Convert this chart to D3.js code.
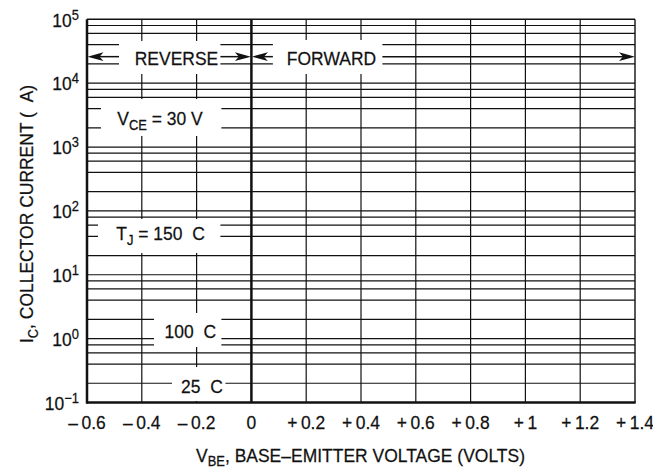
<!DOCTYPE html>
<html>
<head>
<meta charset="utf-8">
<script src="https://cdn.jsdelivr.net/npm/d3@7"></script>
<style>
  html, body { margin: 0; padding: 0; background: #fff; }
  svg { display: block; }
  text { font-family: "Liberation Sans", Arial, Helvetica, sans-serif; fill: #111; stroke: #111; stroke-width: 0.25; white-space: pre; }
</style>
</head>
<body>
<svg id="chart" width="653" height="470"></svg>
<script>
// ---- data ----
const xTicks = [-0.6, -0.4, -0.2, 0, 0.2, 0.4, 0.6, 0.8, 1, 1.2, 1.4];
const xTickLabels = ["\u2013\u20090.6", "\u2013\u20090.4", "\u2013\u20090.2", "0", "+\u20090.2", "+\u20090.4", "+\u20090.6", "+\u20090.8", "+\u20091", "+\u20091.2", "+\u20091.4"];
const yDecades = [-1, 0, 1, 2, 3, 4, 5];
const yDecadeLabels = ["\u22121", "0", "1", "2", "3", "4", "5"];
const yMinorMultipliers = [2, 4, 6, 8];
const xDomain = [-0.6, 1.4];
const yDomain = [0.1, 1e5];
const regionLabels = ["REVERSE", "FORWARD"];
const conditionLabels = ["30 V", "150\u00a0\u00a0C", "100\u00a0\u00a0C", "25\u00a0\u00a0C"];
const xTitle = ["V", "BE", ", BASE\u2013EMITTER VOLTAGE (VOLTS)"];
const yTitle = ["I", "C", ", COLLECTOR CURRENT (\u00a0\u00a0A)"];

// ---- setup ----
const svg = d3.select("#chart");
const x = d3.scaleLinear().domain(xDomain).range([87, 635]);
const y = d3.scaleLog().domain(yDomain).range([402.5, 19.3]);
const ink = "#111";
const FS = 19;
const SX = 0.92;

// grid values
const minorVals = [];
yDecades.slice(0, -1).forEach(d => yMinorMultipliers.forEach(m => minorVals.push(m * Math.pow(10, d))));
const majorVals = yDecades.map(d => Math.pow(10, d));

const grid = svg.append("g");
grid.selectAll("line.h").data(minorVals.concat(majorVals.slice(1, -1)))
  .join("line").attr("class", "h")
  .attr("x1", x(xDomain[0])).attr("x2", x(xDomain[1]))
  .attr("y1", d => y(d)).attr("y2", d => y(d))
  .attr("stroke", ink).attr("stroke-width", 1.2);
grid.append("line").attr("x1", x(xDomain[0])).attr("x2", x(xDomain[1]))
  .attr("y1", y(yDomain[1])).attr("y2", y(yDomain[1])).attr("stroke", ink).attr("stroke-width", 1.4);
grid.selectAll("line.v").data(xTicks.filter(t => t !== 0 && t !== xDomain[0]))
  .join("line").attr("class", "v")
  .attr("x1", d => x(d)).attr("x2", d => x(d))
  .attr("y1", y(yDomain[0])).attr("y2", y(yDomain[1]))
  .attr("stroke", ink).attr("stroke-width", d => d === xDomain[1] ? 1.4 : 1.2);

// ---- white label boxes (break the grid) ----
const boxes = [
  [x(-0.6) + 32, x(0) - 31, 41, 74],      // REVERSE
  [x(0) + 21.5, x(0) + 131, 40, 74],      // FORWARD
  [x(-0.6) + 14, x(0) - 30, 99, 136],     // VCE
  [x(-0.6) + 11, x(0) - 31, 219, 253],    // TJ
  [x(-0.6) + 67, x(0) - 30, 313, 347],    // 100 C
  [x(-0.6) + 85, x(0) - 26, 367, 401]     // 25 C
];
svg.append("g").selectAll("rect").data(boxes).join("rect")
  .attr("x", d => d[0]).attr("width", d => d[1] - d[0])
  .attr("y", d => d[2]).attr("height", d => d[3] - d[2])
  .attr("fill", "#fff");

// thick axes: left, zero, bottom
const axes = svg.append("g");
axes.append("line").attr("x1", x(xDomain[0])).attr("x2", x(xDomain[0]))
  .attr("y1", y(yDomain[0]) + 1.2).attr("y2", y(yDomain[1])).attr("stroke", ink).attr("stroke-width", 2.5);
axes.append("line").attr("x1", x(0)).attr("x2", x(0))
  .attr("y1", y(yDomain[0])).attr("y2", y(yDomain[1])).attr("stroke", ink).attr("stroke-width", 2.5);
axes.append("line").attr("x1", x(xDomain[0])).attr("x2", x(xDomain[1]) + 0.7)
  .attr("y1", y(yDomain[0])).attr("y2", y(yDomain[0])).attr("stroke", ink).attr("stroke-width", 2.5);

// ---- arrows ----
const arrowY = y(2.6e4);
function arrow(x0, x1) {
  const g = svg.append("g");
  const dir = x1 > x0 ? 1 : -1;
  g.append("line").attr("x1", x0).attr("x2", x1 - dir * 10).attr("y1", arrowY).attr("y2", arrowY)
    .attr("stroke", ink).attr("stroke-width", 1.5);
  const L = 16, H = 4.4, N = 12;
  g.append("path").attr("d",
    `M${x1},${arrowY} L${x1 - dir * L},${arrowY - H} L${x1 - dir * N},${arrowY} L${x1 - dir * L},${arrowY + H} Z`)
    .attr("fill", ink);
}
arrow(boxes[0][0], x(xDomain[0]) + 0.5);
arrow(x(0) - 31, x(0) - 0.5);
arrow(boxes[1][0], x(0) + 0.5);
arrow(boxes[1][1], x(xDomain[1]));

// ---- text helper (condensed via horizontal scale) ----
function richText(parent, parts, px, py, anchor, rot, fs) {
  fs = fs || FS;
  const g = parent.append("g")
    .attr("transform", `translate(${px},${py})` + (rot ? ` rotate(${rot})` : "") + ` scale(${SX},1)`);
  const t = g.append("text").attr("font-size", fs).attr("text-anchor", anchor);
  parts.forEach(p => {
    const s = t.append("tspan").text(p.t);
    if (p.small) s.attr("font-size", fs * 0.74);
    if (p.dy) s.attr("dy", p.dy);
  });
  return t;
}

const labels = svg.append("g");
richText(labels, [{ t: regionLabels[0] }], 176.5, 64.5, "middle");
richText(labels, [{ t: regionLabels[1] }], 331.5, 64.5, "middle");
richText(labels, [{ t: "V" }, { t: "CE", small: true, dy: 4.5 }, { t: " = " + conditionLabels[0], dy: -4.5 }], 160, 125, "middle");
richText(labels, [{ t: "T" }, { t: "J", small: true, dy: 4.5 }, { t: " = " + conditionLabels[1], dy: -4.5 }], 160.5, 240, "middle");
richText(labels, [{ t: conditionLabels[2] }], 190.3, 338, "middle");
richText(labels, [{ t: conditionLabels[3] }], 202, 392.5, "middle");

// x tick labels
const xl = svg.append("g");
xTicks.forEach((d, i) => richText(xl, [{ t: xTickLabels[i] }], x(d), y(yDomain[0]) + 26, "middle"));

// y tick labels
const yl = svg.append("g");
yDecades.forEach((d, i) => {
  richText(yl, [{ t: "10" }, { t: yDecadeLabels[i], small: true, dy: -7 }], 79, y(Math.pow(10, d)) + 7.3, "end");
});

// axis titles
richText(svg, [{ t: xTitle[0] }, { t: xTitle[1], small: true, dy: 4.5 }, { t: xTitle[2], dy: -4.5 }], 360.5, 461.5, "middle");
richText(svg, [{ t: yTitle[0] }, { t: yTitle[1], small: true, dy: 4.5 }, { t: yTitle[2], dy: -4.5 }], 33, 214, "middle", -90);
</script>
</body>
</html>
